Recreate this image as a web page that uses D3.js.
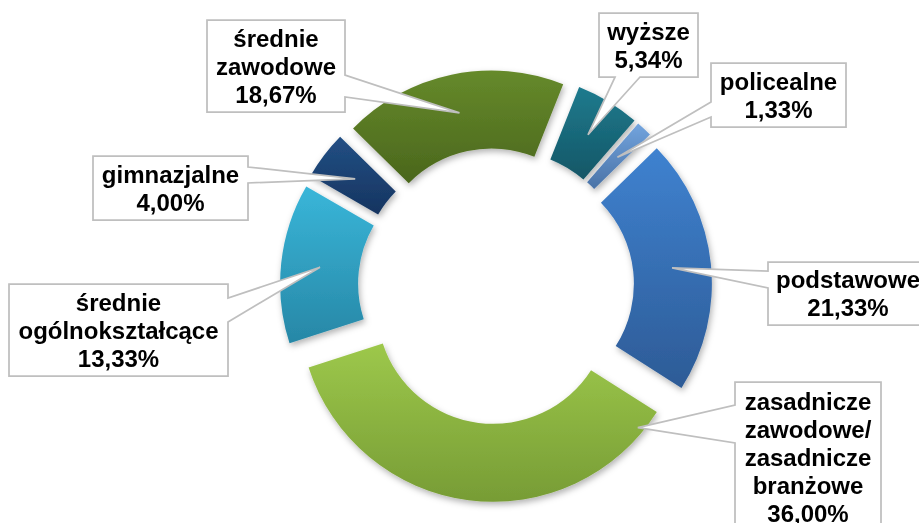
<!DOCTYPE html>
<html><head><meta charset="utf-8">
<script src="https://cdn.jsdelivr.net/npm/d3@7"></script>
<style>body{margin:0;background:#fff;overflow:hidden}</style>
</head><body><svg id="chart" width="919" height="523"></svg>
<script>
// ---- data ----
const categories = ["wyższe", "policealne", "podstawowe", "zasadnicze zawodowe/ zasadnicze branżowe", "średnie ogólnokształcące", "gimnazjalne", "średnie zawodowe"];
const values = [5.34, 1.33, 21.33, 36.00, 13.33, 4.00, 18.67];
const labelLines = [["wyższe"], ["policealne"], ["podstawowe"], ["zasadnicze", "zawodowe/", "zasadnicze", "branżowe"], ["średnie", "ogólnokształcące"], ["gimnazjalne"], ["średnie", "zawodowe"]];
const colorsTop = ["#1f7b8e", "#72a4de", "#3f82d0", "#9dc84b", "#39b6d9", "#224f84", "#668a2b"];
const colorsBottom = ["#135666", "#4a72a6", "#2d5b96", "#779c35", "#2787a6", "#163460", "#4a661c"];

// ---- layout ----
const W = 919, H = 523;
const cx = 496, cy = 286, rOuter = 194, rInner = 116, explode = 22;
const startDeg = 21.7;
const callouts = [
  {box: [599, 13, 698, 77], side: "bottom", base: [615, 640], tip: [0.5, 0.5]},
  {box: [711, 63, 846, 127], side: "left", base: [102, 117], tip: [0.5, 0.5]},
  {box: [768, 262, 928, 325], side: "left", base: [271, 288], tip: [0.5, 0.5]},
  {box: [735, 382, 881, 533], side: "left", base: [405, 443], tip: [0.055, 0.92]},
  {box: [9, 284, 228, 376], side: "right", base: [298, 322], tip: [0.5, 0.5]},
  {box: [93, 156, 248, 220], side: "right", base: [167, 183], tip: [0.5, 0.5]},
  {box: [207, 20, 345, 112], side: "right", base: [75, 97], tip: [0.5, 0.5]}
];
const fontSize = 24, lineH = 28;

const svg = d3.select("#chart");
const defs = svg.append("defs");
const f = defs.append("filter").attr("id", "shadow").attr("x", "-20%").attr("y", "-20%").attr("width", "140%").attr("height", "140%");
f.append("feDropShadow").attr("dx", 1.5).attr("dy", 3).attr("stdDeviation", 3).attr("flood-color", "#000").attr("flood-opacity", 0.3);

categories.forEach((c, i) => {
  const g = defs.append("linearGradient").attr("id", "grad" + i).attr("x1", 0).attr("y1", 0).attr("x2", 0).attr("y2", 1);
  g.append("stop").attr("offset", "0%").attr("stop-color", colorsTop[i]);
  g.append("stop").attr("offset", "100%").attr("stop-color", colorsBottom[i]);
});

const a0 = startDeg * Math.PI / 180;
const pie = d3.pie().sort(null).value(d => d).startAngle(a0).endAngle(a0 + 2 * Math.PI);
const arcs = pie(values);
const arc = d3.arc().innerRadius(rInner).outerRadius(rOuter);

function offsetOf(a) {
  const m = (a.startAngle + a.endAngle) / 2;
  return [cx + explode * Math.sin(m), cy - explode * Math.cos(m)];
}

const slices = svg.append("g").attr("filter", "url(#shadow)");
slices.selectAll("path").data(arcs).join("path")
  .attr("transform", d => { const o = offsetOf(d); return `translate(${o[0]},${o[1]})`; })
  .attr("d", arc)
  .attr("fill", (d, i) => `url(#grad${i})`);

const fmt = v => d3.format(".2f")(v).replace(".", ",") + "%";

function calloutPath(c, tip) {
  const [x0, y0, x1, y1] = c.box;
  const [b0, b1] = c.base;
  const t = `${tip[0]},${tip[1]}`;
  if (c.side === "right") return `M${x0},${y0}H${x1}V${b0}L${t}L${x1},${b1}V${y1}H${x0}Z`;
  if (c.side === "left") return `M${x0},${y0}H${x1}V${y1}H${x0}V${b1}L${t}L${x0},${b0}Z`;
  return `M${x0},${y0}H${x1}V${y1}H${b1}L${t}L${b0},${y1}H${x0}Z`;
}

const labels = svg.append("g");
arcs.forEach((a, i) => {
  const c = callouts[i];
  const o = offsetOf(a);
  const ang = a.startAngle + c.tip[0] * (a.endAngle - a.startAngle);
  const r = rInner + c.tip[1] * (rOuter - rInner);
  const tip = [o[0] + r * Math.sin(ang), o[1] - r * Math.cos(ang)];
  labels.append("path").attr("d", calloutPath(c, tip))
    .attr("fill", "#fff").attr("stroke", "#bfbfbf").attr("stroke-width", 1.75).attr("stroke-linejoin", "miter");
  const lines = labelLines[i].concat([fmt(values[i])]);
  const bx = (c.box[0] + c.box[2]) / 2, by = (c.box[1] + c.box[3]) / 2;
  const first = by - (lines.length - 1) * lineH / 2 + fontSize * 0.36;
  const txt = labels.append("text").attr("text-anchor", "middle")
    .attr("font-family", "'Liberation Sans', Arial, sans-serif").attr("font-weight", "bold")
    .attr("font-size", fontSize).attr("fill", "#000");
  lines.forEach((l, k) => txt.append("tspan").attr("x", bx).attr("y", first + k * lineH).text(l));
});
</script>
</body></html>
